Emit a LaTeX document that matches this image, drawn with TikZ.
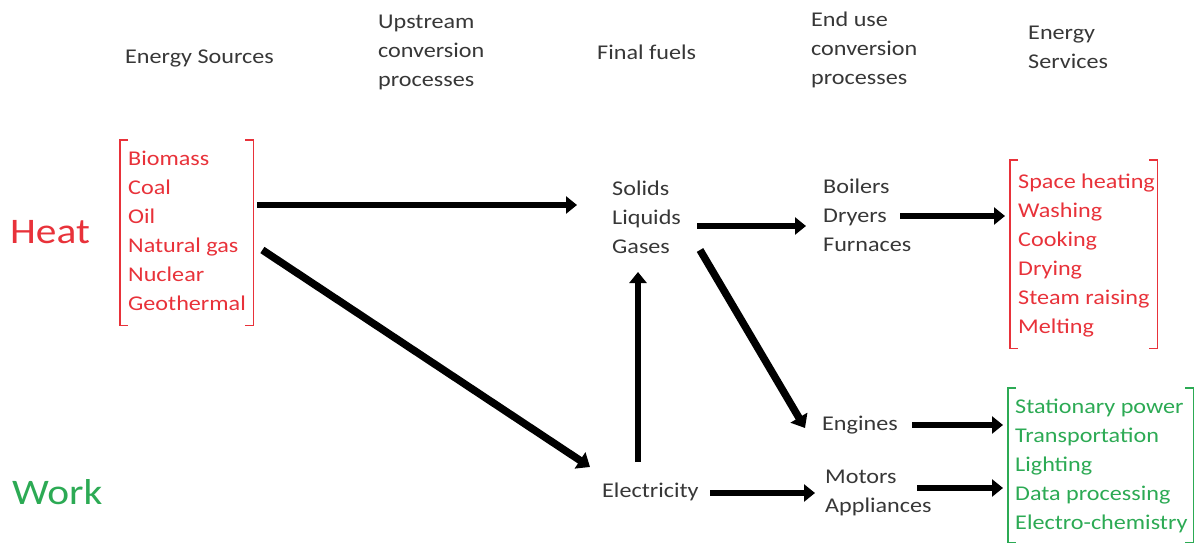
\documentclass[tikz,border=0pt]{standalone}
\usepackage{fontspec}
\setmainfont{Carlito}[FakeStretch=1.15]
\usetikzlibrary{arrows.meta}
\definecolor{hred}{RGB}{232,50,58}
\definecolor{wgreen}{RGB}{44,170,84}
\definecolor{tgray}{RGB}{55,55,55}
\begin{document}
\begin{tikzpicture}[x=1pt,y=-1pt,
  lbl/.style={font=\fontsize{21}{29}\selectfont, text=tgray, align=left, inner sep=0pt, anchor=west},
  big/.style={font=\fontsize{36}{40}\selectfont, inner sep=0pt, anchor=west},
  box/.style={draw=none, inner sep=0pt, anchor=north west},
  arr/.style={line width=6pt, -{Triangle[length=11pt,width=17pt]}},
  darr/.style={line width=7.5pt, -{Triangle[length=12pt,width=19pt]}},
  brk/.style={line width=1.8pt}
]
\useasboundingbox (0,0) rectangle (1201,546);
% headers
\node[lbl] (es) at (125,58) {Energy Sources};
\node[lbl] (up) at (378,52) {Upstream\\conversion\\processes};
\node[lbl] (ffh) at (597,52) {Final fuels};
\node[lbl] (eu) at (811,50) {End use\\conversion\\processes};
\node[lbl] (esv) at (1028,47) {Energy\\Services};
% Heat / Work
\node[big, text=hred] (heat) at (10,232) {Heat};
\node[big, text=wgreen] (work) at (12,492) {Work};
% sources
\node[box, minimum width=133pt, minimum height=185pt] (srcb) at (120,140) {};
\node[lbl, text=hred] (src) at (128,231) {Biomass\\Coal\\Oil\\Natural gas\\Nuclear\\Geothermal};
\draw[brk, hred] ([xshift=8]srcb.north west) -- (srcb.north west) -- (srcb.south west) -- ([xshift=8]srcb.south west);
\draw[brk, hred] ([xshift=-8]srcb.north east) -- (srcb.north east) -- (srcb.south east) -- ([xshift=-8]srcb.south east);
% final fuels
\node[lbl] (ff) at (612,217) {Solids\\Liquids\\Gases};
\node[lbl] (el) at (602,492) {Electricity};
% end use
\node[lbl] (bdf) at (823,215) {Boilers\\Dryers\\Furnaces};
\node[lbl] (eng) at (822,425) {Engines};
\node[lbl] (ma) at (825,493) {Motors\\Appliances};
% heat services
\node[box, minimum width=147pt, minimum height=188pt] (hsb) at (1010,160) {};
\node[lbl, text=hred] (hs) at (1018,256) {Space heating\\Washing\\Cooking\\Drying\\Steam raising\\Melting};
\draw[brk, hred] ([xshift=8]hsb.north west) -- (hsb.north west) -- (hsb.south west) -- ([xshift=8]hsb.south west);
\draw[brk, hred] ([xshift=-8]hsb.north east) -- (hsb.north east) -- (hsb.south east) -- ([xshift=-8]hsb.south east);
% work services
\node[box, minimum width=185pt, minimum height=154pt] (wsb) at (1008,388) {};
\node[lbl, text=wgreen] (ws) at (1015,466) {Stationary power\\Transportation\\Lighting\\Data processing\\Electro-chemistry};
\draw[brk, wgreen] ([xshift=8]wsb.north west) -- (wsb.north west) -- (wsb.south west) -- ([xshift=8]wsb.south west);
\draw[brk, wgreen] ([xshift=-8]wsb.north east) -- (wsb.north east) -- (wsb.south east) -- ([xshift=-8]wsb.south east);
% arrows
\draw[arr] ([xshift=4]srcb.east |- 0,205) -- ([xshift=-35]ff.west |- 0,205);
\draw[darr] ([xshift=9]srcb.east |- 0,250) -- ([xshift=-12]el.west |- 0,467);
\draw[arr] ([xshift=85]ff.west |- 0,226) -- ([xshift=-17]bdf.west |- 0,226);
\draw[arr] ([xshift=77]bdf.west |- 0,216) -- ([xshift=-5]hsb.west |- 0,216);
\draw[darr] ([xshift=88]ff.west |- 0,250) -- ([xshift=-17]eng.west |- 0,428);
\draw[arr] ([xshift=90]eng.west |- 0,425) -- ([xshift=-5]wsb.west |- 0,425);
\draw[arr] ([xshift=36]el.west |- 0,462) -- ([xshift=36]el.west |- 0,272);
\draw[arr] ([xshift=108]el.west |- 0,493) -- ([xshift=-10]ma.west |- 0,493);
\draw[arr] ([xshift=92]ma.west |- 0,488) -- ([xshift=-5]wsb.west |- 0,488);
\end{tikzpicture}
\end{document}
